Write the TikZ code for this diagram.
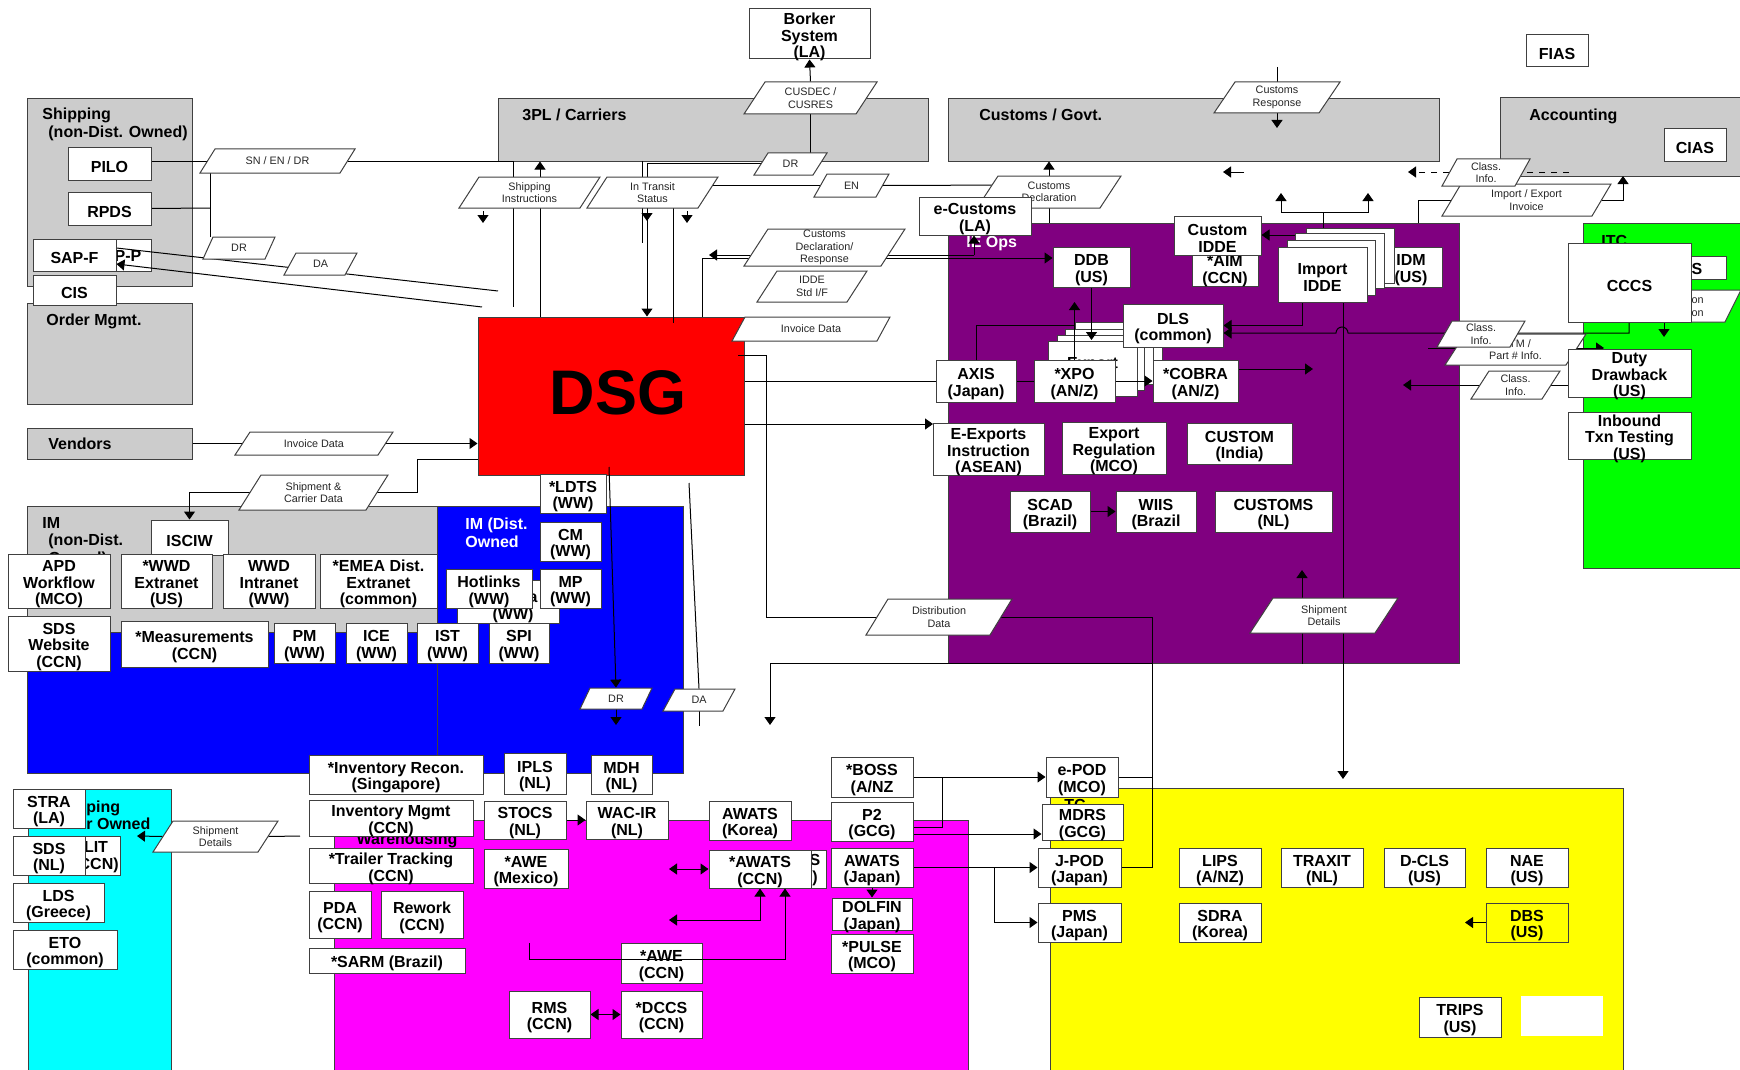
\documentclass[tikz,border=0pt]{standalone}
\usepackage{fontspec}
\setmainfont{Liberation Sans}
\usetikzlibrary{arrows.meta}

\definecolor{regionGray}{HTML}{CCCCCC}
\definecolor{opsPurple}{HTML}{800080}
\definecolor{imBlue}{HTML}{0000FF}
\definecolor{shipCyan}{HTML}{00FFFF}
\definecolor{whMagenta}{HTML}{FF00FF}
\definecolor{tcYellow}{HTML}{FFFF00}
\definecolor{itcGreen}{HTML}{00FF00}
\definecolor{dsgRed}{HTML}{FF0000}
\definecolor{edge}{HTML}{404040}

\pgfdeclarelayer{regions}
\pgfdeclarelayer{wires}
\pgfsetlayers{regions,wires,main}

\tikzset{
    region/.style={
        draw=edge,
        line width=0.5pt,
        inner sep=0pt
    },
    regionlabel/.style={
        font=\bfseries\fontsize{8}{8.7}\selectfont,
        anchor=north west,
        inner sep=0pt,
        align=left
    },
    sysbox/.style={
        draw=edge,
        fill=white,
        line width=0.5pt,
        inner sep=0pt
    },
    systext/.style={
        inner sep=0pt,
        align=center,
        font=\bfseries\fontsize{8}{8.3}\selectfont
    },
    tagshape/.style={
        draw=edge,
        fill=white,
        line width=0.5pt
    },
    taglabel/.style={
        inner sep=0pt,
        align=center,
        font=\fontsize{5.4}{6.2}\selectfont,
        text=black!85
    },
    wire/.style={
        draw=black,
        line width=0.5pt
    },
    arr/.style={
        wire,
        -{Triangle[length=4pt,width=5.5pt]}
    },
    darr/.style={
        wire,
        {Triangle[length=4pt,width=5.5pt]}-{Triangle[length=4pt,width=5.5pt]}
    }
}

% region rectangle from two corners (pixel units)
\newcommand{\regionnode}[6][]{%
    \pgfmathsetmacro{\boxw}{(#5-#3)/2}%
    \pgfmathsetmacro{\boxh}{(#6-#4)/2}%
    \node[region,minimum width=\boxw pt,minimum height=\boxh pt,#1] (#2)
        at ({(#3+#5)/2},{(#4+#6)/2}) {};}
% system box from two corners, its text set a little low as in the source
\newcommand{\sysnode}[7][]{%
    \pgfmathsetmacro{\boxw}{(#5-#3)/2}%
    \pgfmathsetmacro{\boxh}{(#6-#4)/2}%
    \node[sysbox,minimum width=\boxw pt,minimum height=\boxh pt,#1] (#2)
        at ({(#3+#5)/2},{(#4+#6)/2}) {};
    \node[systext] (#2-text) at ([yshift=-1.6pt]#2.center) {#7};}
% data flow tag: name, left x, right x, top y, bottom y, slant, text
\newcommand{\flowtag}[7]{%
    \filldraw[tagshape] (#2,#5) -- ({#2+#6},#4) -- (#3,#4) -- ({#3-#6},#5) -- cycle;
    \pgfmathsetmacro{\tagw}{(#3-#2-#6)/2}%
    \pgfmathsetmacro{\tagh}{(#5-#4)/2}%
    \node[taglabel,minimum width=\tagw pt,minimum height=\tagh pt] (#1)
        at ({(#2+#3)/2},{(#4+#5)/2}) {#7};}

\begin{document}
\begin{tikzpicture}[x=0.5pt,y=-0.5pt]
    \useasboundingbox (0,0) rectangle (1740,1070);

    % Region backgrounds
    \begin{pgfonlayer}{regions}
        \regionnode[fill=regionGray]{shipnd}{27}{99}{192}{286}
        \regionnode[fill=regionGray]{ordermgmt}{27}{303}{192}{404}
        \regionnode[fill=regionGray]{vendors}{27}{428}{192}{459}
        \regionnode[fill=regionGray]{carriers}{498}{99}{928}{161}
        \regionnode[fill=regionGray]{govt}{948}{99}{1439}{161}
        \regionnode[fill=regionGray]{accounting}{1500}{98}{1745}{176}
        \regionnode[fill=opsPurple]{ieops}{948}{223}{1459}{663}
        \regionnode[fill=itcGreen]{itc}{1583}{223}{1745}{568}
        \regionnode[fill=imBlue]{imlow}{27}{506}{437}{773}
        \regionnode[fill=imBlue]{imdist}{437}{506}{683}{773}
        \regionnode[fill=regionGray]{imnd}{27}{506}{437}{632}
        \regionnode[fill=shipCyan]{shipother}{28}{789}{171}{1075}
        \regionnode[fill=whMagenta]{warehouse}{334}{820}{968}{1075}
        \regionnode[fill=tcYellow]{tcyellow}{1050}{788}{1623}{1075}

        % DSG core
        \regionnode[fill=dsgRed]{dsg}{478}{317}{744}{475}
        \node[font=\bfseries\fontsize{31.5}{31.5}\selectfont, inner sep=0pt] (dsgtext) at (618,393) {DSG};

        % Region labels
        \node[regionlabel] (shipndlbl) at (42,108) {Shipping\\\hspace*{3pt}(non-Dist. Owned)};
        \node[regionlabel] (ordlbl) at (46,314) {Order Mgmt.};
        \node[regionlabel, anchor=west] (vendlbl) at (48,444) {Vendors};
        \node[regionlabel] (carrlbl) at (522,109) {3PL / Carriers};
        \node[regionlabel] (govtlbl) at (979,109) {Customs / Govt.};
        \node[regionlabel] (acctlbl) at (1529,109) {Accounting};
        \node[regionlabel, text=white] (opslbl) at (966,236) {IE Ops};
        \node[regionlabel] (itclbl) at (1601,235) {ITC};
        \node[regionlabel] (imndlbl) at (42,517) {IM\\\hspace*{3pt}(non-Dist.\\\hspace*{3pt}Owned)};
        \node[regionlabel, text=white] (imdistlbl) at (465,518) {IM (Dist.\\Owned};
        \node[regionlabel] (shipothlbl) at (86,800) {ping\\r Owned};
        \node[regionlabel, anchor=center] (whlbl) at (407,840) {Warehousing};
        \node[regionlabel] (tclbl) at (1064,799) {TC};

        % box half hidden behind SAP-F
        \node[sysbox, minimum width=41.5pt, minimum height=16pt] (sapp) at (109.5,255) {};
        \node[systext] (sapptext) at (128,256) {P-P};
    \end{pgfonlayer}

    % Data flow tags
    \flowtag{pSN}{200}{355}{149}{173}{15}{SN / EN / DR}
    \flowtag{pDRa}{203}{275}{237}{259}{10}{DR}
    \flowtag{pDAa}{284}{357}{253}{275}{12}{DA}
    \flowtag{pCUS}{744}{877}{82}{114}{21}{CUSDEC /\\CUSRES}
    \flowtag{pDRb}{754}{827}{153}{175}{14}{DR}
    \flowtag{pSI}{459}{600}{177}{208}{20}{Shipping\\Instructions}
    \flowtag{pIT}{587}{718}{177}{208}{20}{In Transit\\Status}
    \flowtag{pEN}{814}{889}{174}{197}{13}{EN}
    \flowtag{pCD}{977}{1121}{176}{208}{21}{Customs\\Declaration}
    \flowtag{pCR}{1214}{1340}{82}{113}{21}{Customs\\Response}
    \flowtag{pIEI}{1442}{1611}{184}{216}{19}{Import / Export\\Invoice}
    \flowtag{pCIa}{1442}{1530}{159}{186}{15}{Class.\\Info.}
    \flowtag{pCDR}{744}{905}{229}{266}{24}{Customs\\Declaration/\\Response}
    \flowtag{pIDDE}{757}{867}{271}{302}{20}{IDDE\\Std I/F}
    \flowtag{pINVb}{732}{890}{317}{341}{13}{Invoice Data}
    \flowtag{pINVa}{235}{393}{432}{455}{15}{Invoice Data}
    \flowtag{pSCD}{239}{388}{475}{510}{22}{Shipment \&\\Carrier Data}
    \flowtag{pMTM}{1445}{1586}{334}{365}{20}{MTM /\\Part \# Info.}
    \flowtag{pCIb}{1437}{1525}{321}{347}{15}{Class.\\Info.}
    \flowtag{pCIc}{1471}{1560}{371}{399}{18}{Class.\\Info.}
    \flowtag{pDD}{866}{1012}{599}{635}{22}{Distribution\\Data}
    \flowtag{pSDa}{1250}{1398}{598}{633}{23}{Shipment\\Details}
    \flowtag{pDRc}{580}{652}{688}{709}{10}{DR}
    \flowtag{pDAc}{663}{735}{689}{711}{12}{DA}
    \flowtag{pSDb}{153}{278}{821}{852}{20}{Shipment\\Details}
    \flowtag{pION}{1650}{1741}{290}{322}{16}{}
    \node[taglabel, anchor=east, align=right] (iontext) at (1704,306) {ion\\on};

    % Top systems
    \sysnode{borker}{749}{9}{870}{59}{Borker\\System\\(LA)}
    \sysnode{fias}{1526}{35}{1588}{67}{FIAS}
    \sysnode{cias}{1664}{129}{1726}{161}{CIAS}

    % Shipping (non-Dist. Owned)
    \sysnode{pilo}{68}{148}{151}{180}{PILO}
    \sysnode{rpds}{68}{192}{151}{225}{RPDS}
    \sysnode{sapf}{33}{239}{116}{271}{SAP-F}
    \sysnode{cis}{33}{275}{116}{305}{CIS}

    % IE Ops
    \sysnode{ecust}{919}{197}{1031}{235}{e-Customs\\(LA)}
    \sysnode{ddb}{1053}{247}{1130}{287}{DDB\\(US)}
    \sysnode{aim}{1192}{250}{1258}{286}{*AIM\\(CCN)}
    \sysnode{customidde}{1174}{216}{1261}{255}{Custom\\IDDE}
    \sysnode{idm}{1380}{247}{1442}{287}{IDM\\(US)}
    \sysnode{impc}{1306}{228}{1394}{283}{}
    \sysnode{impb}{1295}{233}{1384}{288}{}
    \sysnode{impa}{1287}{240}{1375}{295}{}
    \sysnode{imp}{1278}{247}{1367}{302}{Import\\IDDE}
    \sysnode{expc}{1075}{322}{1162}{377}{}
    \sysnode{expb}{1065}{329}{1153}{384}{}
    \sysnode{expa}{1057}{335}{1144}{390}{}
    \sysnode{expf}{1048}{341}{1137}{396}{Export\\\mbox{}}
    \sysnode{dls}{1123}{304}{1223}{347}{DLS\\(common)}
    \sysnode{axis}{936}{360}{1016}{402}{AXIS\\(Japan)}
    \sysnode{xpo}{1034}{360}{1115}{402}{*XPO\\(AN/Z)}
    \sysnode{cobra}{1153}{360}{1238}{402}{*COBRA\\(AN/Z)}
    \sysnode{eexp}{933}{423}{1044}{475}{E-Exports\\Instruction\\(ASEAN)}
    \sysnode{expreg}{1062}{422}{1166}{474}{Export\\Regulation\\(MCO)}
    \sysnode{customin}{1187}{423}{1292}{464}{CUSTOM\\(India)}
    \sysnode{scad}{1010}{491}{1090}{532}{SCAD\\(Brazil)}
    \sysnode{wiis}{1116}{491}{1196}{532}{WIIS\\(Brazil}
    \sysnode{customsnl}{1215}{491}{1332}{532}{CUSTOMS\\(NL)}

    % ITC
    \sysnode{itcs}{1610}{256}{1726}{279}{}
    \node[systext] (itcstext) at (1697,269) {S};
    \sysnode{cccs}{1568}{243}{1691}{322}{CCCS}
    \sysnode{duty}{1568}{349}{1691}{397}{Duty\\Drawback\\(US)}
    \sysnode{inbound}{1568}{412}{1691}{459}{Inbound\\Txn Testing\\(US)}

    % IM (non-Dist. / Dist. Owned)
    \sysnode{isciw}{151}{520}{228}{555}{ISCIW}
    \sysnode{apd}{8}{554}{110}{608}{APD\\Workflow\\(MCO)}
    \sysnode{wwdext}{121}{554}{212}{608}{*WWD\\Extranet\\(US)}
    \sysnode{wwdint}{223}{554}{315}{608}{WWD\\Intranet\\(WW)}
    \sysnode{emea}{320}{554}{437}{608}{*EMEA Dist.\\Extranet\\(common)}
    \sysnode{sds}{8}{616}{110}{671}{SDS\\Website\\(CCN)}
    \sysnode{meas}{121}{621}{268}{667}{*Measurements\\(CCN)}
    \sysnode{pm}{274}{623}{335}{663}{PM\\(WW)}
    \sysnode{ice}{346}{623}{407}{663}{ICE\\(WW)}
    \sysnode{ist}{417}{623}{478}{663}{IST\\(WW)}
    \sysnode{spi}{489}{623}{549}{663}{SPI\\(WW)}
    \sysnode{hidww}{457}{580}{559}{623}{}
    \node[systext] (hidwwa) at (533,598) {a};
    \node[systext] (hidwwb) at (513,615) {(WW)};
    \sysnode{hotlinks}{446}{569}{532}{608}{Hotlinks\\(WW)}
    \sysnode{ldts}{540}{474}{606}{513}{*LDTS\\(WW)}
    \sysnode{cm}{540}{522}{601}{561}{CM\\(WW)}
    \sysnode{mp}{540}{569}{601}{608}{MP\\(WW)}

    % Shipping (other owned)
    \sysnode{stra}{13}{789}{85}{828}{STRA\\(LA)}
    \sysnode{lit}{13}{836}{120}{875}{}
    \node[systext] (littext) at (96,857) {LIT\\(CCN)};
    \sysnode{sdsnl}{13}{836}{85}{875}{SDS\\(NL)}
    \sysnode{lds}{13}{883}{104}{922}{LDS\\(Greece)}
    \sysnode{eto}{13}{930}{117}{969}{ETO\\(common)}

    % Warehousing
    \sysnode{invrecon}{309}{755}{483}{794}{*Inventory Recon.\\(Singapore)}
    \sysnode{invmgmt}{309}{800}{473}{836}{Inventory Mgmt\\(CCN)}
    \sysnode{trailer}{309}{848}{473}{883}{*Trailer Tracking\\(CCN)}
    \sysnode{pda}{309}{891}{371}{938}{PDA\\(CCN)}
    \sysnode{rework}{381}{891}{463}{938}{Rework\\(CCN)}
    \sysnode{sarm}{309}{948}{465}{973}{*SARM (Brazil)}
    \sysnode{ipls}{504}{753}{566}{794}{IPLS\\(NL)}
    \sysnode{mdh}{591}{755}{652}{794}{MDH\\(NL)}
    \sysnode{stocs}{484}{801}{566}{839}{STOCS\\(NL)}
    \sysnode{wacir}{586}{801}{668}{839}{WAC-IR\\(NL)}
    \sysnode{awatsk}{709}{801}{791}{840}{AWATS\\(Korea)}
    \sysnode{awem}{484}{849}{568}{888}{*AWE\\(Mexico)}
    \sysnode{awatsh}{709}{850}{826}{888}{}
    \node[systext] (awatshtext) at (815,870) {S\\)};
    \sysnode{awatsc}{709}{850}{811}{888}{*AWATS\\(CCN)}
    \sysnode{awec}{621}{943}{702}{983}{*AWE\\(CCN)}
    \sysnode{rms}{509}{991}{590}{1038}{RMS\\(CCN)}
    \sysnode{dccs}{621}{991}{702}{1038}{*DCCS\\(CCN)}
    \sysnode{boss}{831}{757}{913}{797}{*BOSS\\(A/NZ}
    \sysnode{ptwo}{831}{802}{913}{841}{P2\\(GCG)}
    \sysnode{awatsj}{831}{848}{913}{887}{AWATS\\(Japan)}
    \sysnode{dolfin}{832}{898}{912}{930}{DOLFIN\\(Japan)}
    \sysnode{pulse}{831}{934}{913}{973}{*PULSE\\(MCO)}

    % TC (yellow)
    \sysnode{epod}{1046}{757}{1118}{797}{e-POD\\(MCO)}
    \sysnode{mdrs}{1042}{804}{1123}{840}{MDRS\\(GCG)}
    \sysnode{jpod}{1038}{848}{1121}{887}{J-POD\\(Japan)}
    \sysnode{pms}{1038}{903}{1121}{942}{PMS\\(Japan)}
    \sysnode{lips}{1179}{848}{1261}{887}{LIPS\\(A/NZ)}
    \sysnode{traxit}{1281}{848}{1363}{887}{TRAXIT\\(NL)}
    \sysnode{dcls}{1384}{848}{1465}{887}{D-CLS\\(US)}
    \sysnode{nae}{1486}{848}{1568}{887}{NAE\\(US)}
    \sysnode{sdra}{1179}{903}{1261}{942}{SDRA\\(Korea)}
    \sysnode[fill=tcYellow]{dbs}{1486}{903}{1568}{942}{DBS\\(US)}
    \sysnode{trips}{1419}{997}{1501}{1037}{TRIPS\\(US)}
    \sysnode[draw=none]{blank}{1521}{996}{1603}{1036}{}

    % Junctions and loose ends
    \coordinate (snDrop) at (513,161);
    \coordinate (snEnd) at (513,307);
    \coordinate (rpdsJoin) at (210,208);
    \coordinate (sapEndA) at (498,291);
    \coordinate (sapEndB) at (482,307);
    \coordinate (siFoot) at (540,317);
    \coordinate (cpTop) at (642,161);
    \coordinate (cpEnd) at (642,243);
    \coordinate (cusBend) at (647,163);
    \coordinate (itFoot) at (673,323);
    \coordinate (enEnd) at (1018,185);
    \coordinate (crTop) at (1277,67);
    \coordinate (crTip) at (1277,128);
    \coordinate (backA) at (1244,172);
    \coordinate (backB) at (1223,172);
    \coordinate (dashA) at (1569,172);
    \coordinate (dashB) at (1408,172);
    \coordinate (opsTop) at (1418,223);
    \coordinate (acctTip) at (1623,176);
    \coordinate (impTop) at (1323,228);
    \coordinate (impFork) at (1323,212);
    \coordinate (impUpL) at (1281,193);
    \coordinate (impUpR) at (1368,193);
    \coordinate (impSide) at (1296,235);
    \coordinate (impFoot) at (1302,302);
    \coordinate (cccsFoot) at (1629,322);
    \coordinate (hopR) at (1348,333);
    \coordinate (trunkTop) at (1343,302);
    \coordinate (trunkTip) at (1343,779);
    \coordinate (ddbTip) at (1091.5,340);
    \coordinate (xpoTip) at (1074.5,302);
    \coordinate (cobraOut) at (1238,369);
    \coordinate (cobraTip) at (1313,369);
    \coordinate (eexpIn) at (933,424);
    \coordinate (ddbFoot) at (702,317);
    \coordinate (ddbBend) at (702,258);
    \coordinate (ecJoin) at (974,255);
    \coordinate (ecTip) at (709,255);
    \coordinate (dsgOut) at (738,355);
    \coordinate (ddBend) at (766,617);
    \coordinate (ddTrunk) at (1152,663);
    \coordinate (ddTip) at (770,725);
    \coordinate (sdaTop) at (1302,598);
    \coordinate (sdaTip) at (1302,570);
    \coordinate (sdaBot) at (1302,633);
    \coordinate (drFoot) at (609,467);
    \coordinate (drTip) at (616,725);
    \coordinate (daFoot) at (689,483);
    \coordinate (daEnd) at (699,726);
    \coordinate (scdOut) at (478,459);
    \coordinate (scdBend) at (417,492.5);
    \coordinate (sdbIn) at (300,836);
    \coordinate (sdbTip) at (137,836);
    \coordinate (awLeftA) at (669,869);
    \coordinate (awLeftB) at (669,920);
    \coordinate (aweFoot) at (529,943);
    \coordinate (aweBend) at (785,959);
    \coordinate (p2Out) at (913,827);
    \coordinate (bossJoin) at (942,777);
    \coordinate (p2OutB) at (913,834);
    \coordinate (ajFork) at (994,867.5);
    \coordinate (dbsTip) at (1465,922.5);
    \coordinate (dutyFoot) at (1664,322);
    \coordinate (dutyTip) at (1664,337);
    \coordinate (ciTip) at (1403,385);
    \coordinate (mtmStart) at (1428,348);
    \coordinate (mtmTip) at (1604,348);
    \coordinate (stubA) at (483,211);
    \coordinate (stubB) at (687,211);
    \coordinate (stubC) at (647,209);

    \begin{pgfonlayer}{wires}
        % Shipping and carriers
        \draw[wire] (pilo.east |- pSN.west) -- (pSN.west);
        \draw[wire] (pSN.east) -- (snDrop) -- (snEnd);
        \draw[wire] (rpds.east) -- (rpdsJoin);
        \draw[wire] (rpdsJoin |- pSN.south) -- (rpdsJoin |- pDRa.north);
        \draw[wire] ([yshift=3.5pt]sapf.east) -- (sapEndA);
        \draw[arr] (sapEndB) -- ([yshift=-4.5pt]sapf.east);
        \draw[arr] (siFoot) -- (siFoot |- carriers.south);
        \draw[wire] (cpTop) -- (cpEnd);
        \draw[arr] (pCUS.north) -- (borker.south);
        \draw[arr] (pCUS.south) |- (cusBend) -- (cusBend |- dsg.north);
        \foreach \s in {stubA,stubB,stubC}
            \draw[arr] (\s) -- ++(0,12);
        \draw[wire] (itFoot) |- (pEN.west);
        \draw[wire] (pEN.east) -- (enEnd);

        % Customs and accounting
        \draw[arr] (pCD.north) -- (pCD.north |- govt.south);
        \draw[wire] (pCD.south) -- (pCD.south |- ieops.north);
        \draw[wire] (crTop) -- (pCR.north);
        \draw[arr] (pCR.south) -- (crTip);
        \draw[arr] (backA) -- (backB);
        \draw[arr, dashed] (dashA) -- (dashB);
        \draw[wire] (opsTop) |- (pIEI.west);
        \draw[arr] (pIEI.east) -| (acctTip);

        % IE Ops
        \draw[wire] (impTop) -- (impFork);
        \draw[arr] (impFork) -| (impUpL);
        \draw[arr] (impFork) -| (impUpR);
        \draw[arr] (impSide) -- (impSide -| customidde.east);
        \draw[arr] (impFoot) |- (dls.east);
        \draw[arr] (cccsFoot) |- (hopR) arc[start angle=0,end angle=180,radius=3pt] -- (dls.east |- hopR);
        \draw[arr] (trunkTop) -- (trunkTip);
        \draw[wire] (axis.east) -- (xpo.west);
        \draw[arr] (cobraOut) -- (cobraTip);
        \draw[wire] (axis.north) |- (dls.west);
        \draw[wire] (dsg.east |- axis.west) -- (axis.west);
        \draw[arr] (dsg.east |- eexpIn) -- (eexpIn);
        \draw[arr] (ddbFoot) -- (ddbBend) -- (ddbBend -| ddb.west);
        \draw[arr] (ecJoin) -- (ecJoin |- ecust.south);
        \draw[arr] (ecJoin) -- (ecTip);
        \draw[arr] (scad.east) -- (wiis.west);
        \draw[arr] (sdaTop) -- (sdaTip);
        \draw[wire] (sdaBot) -- (sdaBot |- ieops.south);

        % DSG downstream
        \draw[wire] (dsgOut) -| (ddBend) -- (pDD.west);
        \draw[wire] (pDD.east) -| (ddTrunk |- jpod.east) -- (jpod.east);
        \draw[wire] (epod.east) -- (epod.east -| ddTrunk);
        \draw[arr] (ddTrunk) -| (ddTip);
        \draw[arr] (drFoot) -- (pDRc.north);
        \draw[arr] (pDRc.south) -- (drTip);
        \draw[wire] (daFoot) -- (pDAc.north);
        \draw[wire] (pDAc.south) -- (daEnd);

        % Vendors and IM
        \draw[arr] (vendors.east) -- (vendors.east -| dsg.west);
        \draw[wire] (scdOut) -| (scdBend) -- (pSCD.east);
        \draw[arr] (pSCD.west) -| (isciw.north);

        % Warehousing and TC
        \draw[wire] (sdbIn) -- (pSDb.east);
        \draw[arr] (pSDb.west) -- (sdbTip);
        \draw[arr] (stocs.east) -- (wacir.west);
        \draw[darr] (awLeftA) -- (awLeftA -| awatsc.west);
        \draw[darr] (awLeftB) -| (awatsc.south);
        \draw[darr] (rms.east) -- (dccs.west);
        \draw[arr] (awatsj.south) -- (dolfin.north);
        \draw[arr] (boss.east) -- (epod.west);
        \draw[wire] (p2Out) -| (bossJoin);
        \draw[arr] (p2OutB) -- (p2OutB -| mdrs.west);
        \draw[arr] (awatsj.east) -- (jpod.west);
        \draw[arr] (ajFork) |- (pms.west);
        \draw[arr] (dbs.west) -- (dbsTip);

        % ITC
        \draw[arr] (dutyFoot) -- (dutyTip);
        \draw[arr] (duty.west |- pCIc.east) -- (ciTip);
        \draw[arr] (mtmStart) -- (mtmTip);
    \end{pgfonlayer}

    % Connectors drawn over the boxes
    \draw[arr] (ddb.south) -- (ddbTip);
    \draw[arr] (xpo.north) -- (xpoTip);
    \draw[arr] (xpo.east) -- (cobra.west);
    \draw[arr] (aweFoot) |- (aweBend) -- (aweBend |- awatsc.south);

\end{tikzpicture}
\end{document}
